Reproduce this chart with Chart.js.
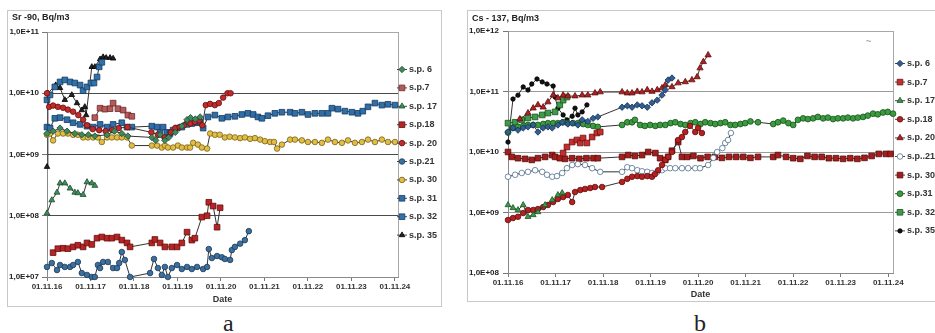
<!DOCTYPE html>
<html>
<head>
<meta charset="utf-8">
<script src="https://cdn.jsdelivr.net/npm/chart.js@4.4.1/dist/chart.umd.min.js"></script>
<style>
  body { margin:0; width:935px; height:333px; overflow:hidden; background:#fff; position:relative; }
  .box { position:absolute; border:1px solid #c8c8c8; box-sizing:border-box; background:#fff; }
  #boxA { left:7px; top:10px; width:435px; height:297px; }
  #boxB { left:467px; top:10px; width:500px; height:292px; }
  .box canvas { display:block; }
  .cap { position:absolute; top:311px; font-family:'Liberation Serif','DejaVu Serif',serif; font-size:24px; line-height:24px; color:#222; }
</style>
</head>
<body>
<div class="box" id="boxA"><canvas id="chartA" width="433" height="295"></canvas></div>
<div class="box" id="boxB"><canvas id="chartB" width="498" height="290"></canvas></div>
<div class="cap" style="left:223px">a</div>
<div class="cap" style="left:694px">b</div>
<script>
// x = years since 01.11.16
const xTicks = [0, 1, 2, 3, 4, 5, 6, 7, 8];
const xTickLabels = ['01.11.16', '01.11.17', '01.11.18', '01.11.19', '01.11.20', '01.11.21', '01.11.22', '01.11.23', '01.11.24'];

const srTicks = [1e7, 1e8, 1e9, 1e10, 1e11];
const srTickLabels = ['1,0E+07', '1,0E+08', '1,0E+09', '1,0E+10', '1,0E+11'];
const csTicks = [1e8, 1e9, 1e10, 1e11, 1e12];
const csTickLabels = ['1,0E+08', '1,0E+09', '1,0E+10', '1,0E+11', '1,0E+12'];

const srNames = ['s.p. 6', 's.p.7', 's.p. 17', 's.p.18', 's.p. 20', 's.p.21', 's.p. 30', 's.p. 31', 's.p. 32', 's.p. 35'];
const csNames = ['s.p. 6', 's.p.7', 's.p. 17', 's.p.18', 's.p. 20', 's.p..21', 's.p. 30', 's.p.31', 's.p. 32', 's.p. 35'];

// ---- Sr-90 ----
const srSp6 = [[0,2.2e9],[0.14,2.4e9],[0.3,2.7e9],[0.46,2.4e9],[0.64,2.2e9],[0.8,2.1e9],[0.95,2.1e9],[1.1,2.0e9],[1.38,2.1e9],[1.55,2.4e9],[1.72,2.2e9],[1.86,2.0e9],[2.41,1.9e9],[2.5,1.7e9],[2.6,2.1e9],[2.71,1.7e9],[2.8,1.9e9],[2.95,2.3e9],[3.1,2.9e9],[3.22,3.7e9],[3.3,4.0e9],[3.41,3.8e9],[3.52,4.1e9]];
const srSp7 = [[1.1,4.0e9],[1.22,5.7e9],[1.33,5.5e9],[1.45,5.6e9],[1.52,6.9e9],[1.63,5.6e9],[1.75,5.3e9],[1.86,4.4e9],[1.95,4.2e9]];
const srSp17 = [[0,1.1e8],[0.11,1.8e8],[0.23,2.4e8],[0.3,3.4e8],[0.41,3.4e8],[0.53,2.8e8],[0.64,2.4e8],[0.71,2.35e8],[0.83,2.2e8],[0.92,3.55e8],[1.03,3.4e8],[1.1,3.1e8]];
const srSp18 = [[0.14,2.5e7],[0.25,2.9e7],[0.37,2.95e7],[0.48,2.9e7],[0.6,3.1e7],[0.71,3.3e7],[0.83,3.1e7],[0.92,3.6e7],[1.03,3.4e7],[1.15,4.3e7],[1.26,4.5e7],[1.38,4.3e7],[1.49,4.3e7],[1.61,4.5e7],[1.72,4.0e7],[1.84,3.6e7],[1.91,3.1e7],[2.41,3.6e7],[2.48,4.1e7],[2.6,3.6e7],[2.71,3.1e7],[2.87,3.1e7],[2.99,3.1e7],[3.1,3.6e7],[3.22,5.4e7],[3.33,4.0e7],[3.4,4.3e7],[3.56,9.5e7],[3.68,1.0e8],[3.72,1.66e8],[3.82,1.44e8],[3.91,6.5e7],[3.98,1.35e8]];
const srSp20 = [[0,1.0e10],[0.05,6.0e9],[0.14,6.3e9],[0.25,6.0e9],[0.37,5.8e9],[0.48,5.4e9],[0.6,5.0e9],[0.72,4.4e9],[0.83,3.7e9],[0.92,3.0e9],[1.05,2.6e9],[1.2,2.5e9],[1.35,2.4e9],[1.5,2.5e9],[1.65,2.7e9],[1.85,2.8e9],[2.4,2.3e9],[2.55,2.1e9],[2.7,1.9e9],[2.85,2.3e9],[2.95,2.7e9],[3.05,2.8e9],[3.15,3.0e9],[3.3,3.2e9],[3.4,3.4e9],[3.5,3.6e9],[3.57,3.0e9],[3.65,6.4e9],[3.75,6.7e9],[3.86,6.4e9],[3.95,6.9e9],[4.05,8.5e9],[4.15,1.0e10],[4.22,1.0e10]];
const srSp21 = [[0,1.46e7],[0.11,1.69e7],[0.23,1.3e7],[0.3,1.57e7],[0.41,1.46e7],[0.53,1.46e7],[0.6,1.57e7],[0.71,1.76e7],[0.8,1.16e7],[0.92,1.08e7],[1.03,1.0e7],[1.1,1.0e7],[1.17,1.57e7],[1.22,1.4e7],[1.29,1.76e7],[1.4,1.76e7],[1.52,1.4e7],[1.61,1.4e7],[1.66,1.69e7],[1.72,2.56e7],[1.79,1.9e7],[1.91,1.0e7],[2.37,1.16e7],[2.46,1.97e7],[2.55,1.4e7],[2.64,1.08e7],[2.71,1.46e7],[2.78,1.0e7],[2.87,1.4e7],[2.99,1.57e7],[3.1,1.35e7],[3.22,1.46e7],[3.33,1.35e7],[3.45,1.46e7],[3.59,1.35e7],[3.68,1.46e7],[3.72,2.86e7],[3.79,2.04e7],[3.91,2.2e7],[4.02,2.1e7],[4.09,1.97e7],[4.21,1.9e7],[4.25,2.75e7],[4.32,3.1e7],[4.44,3.5e7],[4.55,4.0e7],[4.64,5.6e7]];
const srSp30 = [[0,2.1e9],[0.07,2.2e9],[0.14,1.7e9],[0.25,2.2e9],[0.37,2.2e9],[0.48,2.2e9],[0.6,2.1e9],[0.71,2.1e9],[0.83,1.9e9],[0.94,1.9e9],[1.06,1.9e9],[1.17,1.9e9],[1.26,1.6e9],[1.38,1.9e9],[1.49,1.9e9],[1.61,1.9e9],[1.72,1.9e9],[1.84,1.9e9],[1.95,1.4e9],[2.41,1.4e9],[2.53,1.4e9],[2.64,1.3e9],[2.71,1.4e9],[2.78,1.3e9],[2.9,1.3e9],[3.01,1.4e9],[3.1,1.3e9],[3.22,1.3e9],[3.29,1.3e9],[3.36,1.55e9],[3.47,1.45e9],[3.56,1.3e9],[3.68,1.25e9],[3.75,2.2e9],[3.86,2.1e9],[3.97,2.1e9],[4.09,1.9e9],[4.2,1.95e9],[4.32,1.9e9],[4.44,1.85e9],[4.55,1.9e9],[4.67,1.8e9],[4.78,1.85e9],[4.9,1.75e9],[5.01,1.65e9],[5.13,1.6e9],[5.22,1.6e9],[5.29,1.25e9],[5.4,1.45e9],[5.59,1.75e9],[5.7,1.75e9],[5.86,1.7e9],[6.0,1.6e9],[6.16,1.6e9],[6.32,1.55e9],[6.46,1.75e9],[6.62,1.6e9],[6.78,1.55e9],[6.92,1.7e9],[7.08,1.55e9],[7.24,1.6e9],[7.38,1.75e9],[7.54,1.6e9],[7.7,1.75e9],[7.84,1.6e9],[8.0,1.6e9]];
const srSp31 = [[0,2.8e9],[0.07,2.7e9],[0.18,3.9e9],[0.3,4.0e9],[0.46,3.7e9],[0.6,3.3e9],[0.76,3.1e9],[0.92,2.9e9],[1.06,2.8e9],[1.22,3.1e9],[1.38,2.8e9],[1.52,3.1e9],[1.72,3.3e9],[1.84,2.8e9],[1.95,2.8e9],[2.41,2.9e9],[2.53,2.8e9],[2.6,2.3e9],[2.67,2.8e9],[2.76,2.3e9],[2.83,2.2e9],[2.9,2.5e9],[2.99,2.7e9],[3.1,2.8e9],[3.22,3.1e9],[3.33,3.2e9],[3.45,3.3e9],[3.52,3.4e9],[3.59,2.7e9],[3.7,4.1e9],[3.86,4.4e9],[4.02,3.9e9],[4.16,4.1e9],[4.32,4.2e9],[4.48,4.5e9],[4.62,4.7e9],[4.74,4.5e9],[4.85,4.1e9],[4.94,3.9e9],[5.08,4.3e9],[5.24,4.7e9],[5.4,4.9e9],[5.59,4.9e9],[5.7,4.7e9],[5.86,4.9e9],[6.0,4.5e9],[6.16,4.7e9],[6.32,4.7e9],[6.46,4.7e9],[6.55,5.7e9],[6.69,5.5e9],[6.85,5.1e9],[7.01,4.9e9],[7.15,4.7e9],[7.26,5.1e9],[7.38,6.0e9],[7.54,6.9e9],[7.7,6.4e9],[7.84,6.6e9],[8.0,6.4e9]];
const srSp32 = [[0,7.8e9],[0.07,9.4e9],[0.18,1.27e10],[0.3,1.53e10],[0.41,1.65e10],[0.53,1.53e10],[0.64,1.47e10],[0.76,1.36e10],[0.83,1.1e10],[0.92,1.27e10],[1.01,1.47e10],[1.08,1.47e10],[1.15,1.84e10],[1.2,2.7e10],[1.26,3.2e10]];
const srSp35 = [[0,6.3e8],[0.02,1.0e10],[0.2,1.36e10],[0.3,1.22e10],[0.41,7.8e9],[0.57,9.4e9],[0.69,6.9e9],[0.8,5.3e9],[0.87,6.0e9],[0.9,4.4e9],[1.03,2.7e10],[1.1,2.7e10],[1.22,3.6e10],[1.29,3.9e10],[1.36,3.8e10],[1.45,3.8e10],[1.52,3.7e10]];

// ---- Cs-137 ----
const csSp6 = [[0,2.14e10],[0.105,2.5e10],[0.21,2.3e10],[0.32,2.5e10],[0.42,2.6e10],[0.53,2.8e10],[0.63,2.14e10],[0.74,2.5e10],[0.84,2.6e10],[0.93,2.5e10],[1.05,2.8e10],[1.14,3.1e10],[1.26,2.9e10],[1.35,3.0e10],[1.47,2.8e10],[1.56,3.4e10],[1.68,3.2e10],[1.79,3.6e10],[1.89,3.8e10],[2.4,5.5e10],[2.51,5.8e10],[2.61,5.5e10],[2.72,6.0e10],[2.82,5.8e10],[2.93,5.5e10],[3.03,6.5e10],[3.14,7.2e10],[3.24,8.7e10],[3.31,1.06e11],[3.37,1.55e11],[3.45,1.67e11]];
const csSp7 = [[1.16,9.6e9],[1.24,1.21e10],[1.35,1.46e10],[1.45,1.58e10],[1.52,1.41e10],[1.58,1.7e10],[1.66,1.41e10],[1.77,1.77e10],[1.87,2.06e10],[1.94,2.14e10]];
const csSp17 = [[0,1.33e9],[0.105,1.19e9],[0.21,1.1e9],[0.32,1.33e9],[0.42,8.5e8],[0.53,9.1e8],[0.63,1.02e9],[0.78,1.33e9],[0.93,1.61e9],[1.05,1.95e9],[1.14,2.1e9]];
const csSp18 = [[0,7.5e8],[0.105,8.1e8],[0.21,8.5e8],[0.32,9.8e8],[0.42,1.1e9],[0.53,1.1e9],[0.63,1.14e9],[0.74,1.23e9],[0.84,1.33e9],[0.95,1.49e9],[1.05,1.67e9],[1.16,1.8e9],[1.26,1.95e9],[1.35,1.49e9],[1.41,2.18e9],[1.52,2.35e9],[1.62,2.45e9],[1.73,2.54e9],[1.83,2.64e9],[1.98,2.64e9],[2.4,3.2e9],[2.51,3.6e9],[2.61,3.9e9],[2.72,4.0e9],[2.82,3.9e9],[2.93,4.0e9],[3.03,3.9e9],[3.09,4.3e9],[3.16,5.0e9],[3.24,6.1e9],[3.31,7.4e9],[3.37,8.3e9],[3.45,1.0e10],[3.58,1.58e10],[3.66,1.77e10],[3.73,2.14e10],[3.83,2.7e10],[3.94,2.14e10],[4.0,2.5e10],[4.08,2.06e10]];
const csSp20 = [[0.25,3.5e10],[0.42,4.4e10],[0.53,5.3e10],[0.63,6.0e10],[0.74,5.5e10],[0.84,6.7e10],[0.95,8.7e10],[1.05,7.8e10],[1.16,8.7e10],[1.26,8.4e10],[1.41,8.4e10],[1.56,8.7e10],[1.68,8.7e10],[1.83,9.4e10],[1.94,9.8e10],[2.4,9.8e10],[2.51,9.4e10],[2.61,9.4e10],[2.72,1.0e11],[2.82,9.8e10],[2.93,1.06e11],[3.03,1.0e11],[3.14,1.06e11],[3.24,1.14e11],[3.31,1.28e11],[3.45,1.19e11],[3.58,1.38e11],[3.73,1.44e11],[3.87,1.55e11],[3.98,1.74e11],[4.04,2.44e11],[4.11,3.1e11],[4.21,4.0e11]];
const csSp21 = [[0,3.9e9],[0.15,4.2e9],[0.29,4.5e9],[0.42,4.7e9],[0.57,5.0e9],[0.72,4.7e9],[0.82,4.2e9],[0.93,3.9e9],[1.03,4.0e9],[1.14,4.5e9],[1.24,5.4e9],[1.35,6.1e9],[1.47,6.3e9],[1.62,6.1e9],[1.77,5.4e9],[1.94,4.7e9],[2.4,4.7e9],[2.51,5.6e9],[2.61,5.4e9],[2.72,5.0e9],[2.82,4.8e9],[2.93,4.7e9],[3.03,4.5e9],[3.14,4.7e9],[3.24,5.0e9],[3.31,5.4e9],[3.41,5.4e9],[3.52,5.4e9],[3.66,5.4e9],[3.79,5.4e9],[3.94,5.4e9],[4.04,5.4e9],[4.21,6.1e9],[4.32,8.0e9],[4.4,1.0e10],[4.51,1.16e10],[4.57,1.41e10],[4.63,1.58e10],[4.69,2.06e10]];
const csSp30 = [[0,1.0e10],[0.08,8.3e9],[0.21,7.9e9],[0.36,7.7e9],[0.5,7.4e9],[0.63,7.9e9],[0.78,8.3e9],[0.93,8.9e9],[0.99,8.3e9],[1.09,7.9e9],[1.2,7.7e9],[1.35,7.9e9],[1.5,7.7e9],[1.65,7.9e9],[1.8,7.9e9],[1.89,7.9e9],[2.4,8.3e9],[2.53,8.9e9],[2.67,8.6e9],[2.82,8.9e9],[2.95,1.0e10],[3.1,9.6e9],[3.2,7.9e9],[3.31,7.4e9],[3.37,8.3e9],[3.45,1.05e10],[3.58,1.46e10],[3.66,8.3e9],[3.77,8.3e9],[3.9,8.6e9],[4.05,7.9e9],[4.2,8.3e9],[4.35,8.3e9],[4.5,8.0e9],[4.65,8.3e9],[4.8,8.3e9],[4.95,8.3e9],[5.1,8.0e9],[5.26,8.3e9],[5.58,8.3e9],[5.68,8.9e9],[5.85,8.3e9],[6.0,7.9e9],[6.15,7.7e9],[6.3,8.6e9],[6.45,8.3e9],[6.6,8.3e9],[6.75,7.9e9],[6.9,7.9e9],[7.05,7.7e9],[7.2,7.9e9],[7.35,7.7e9],[7.5,8.0e9],[7.65,8.6e9],[7.8,9.3e9],[7.95,9.3e9],[8.05,9.3e9]];
const csSp31 = [[0,2.1e10],[0.105,2.5e10],[0.21,2.6e10],[0.32,2.7e10],[0.42,2.8e10],[0.53,2.8e10],[0.63,2.8e10],[0.74,2.9e10],[0.84,3.0e10],[0.95,3.0e10],[1.05,3.0e10],[1.16,3.1e10],[1.26,3.0e10],[1.37,3.0e10],[1.47,3.0e10],[1.58,2.9e10],[1.68,2.8e10],[1.79,2.7e10],[1.89,2.6e10],[2.4,2.8e10],[2.51,3.1e10],[2.61,3.1e10],[2.67,3.4e10],[2.78,2.8e10],[2.88,2.7e10],[2.99,2.8e10],[3.1,2.7e10],[3.2,2.8e10],[3.31,2.8e10],[3.42,3.0e10],[3.52,3.1e10],[3.63,2.9e10],[3.73,2.8e10],[3.84,3.0e10],[3.94,3.1e10],[4.05,2.9e10],[4.15,3.1e10],[4.26,3.0e10],[4.36,2.9e10],[4.47,3.0e10],[4.57,3.1e10],[4.68,2.8e10],[4.78,2.8e10],[4.89,2.9e10],[4.99,3.0e10],[5.1,3.2e10],[5.26,3.1e10],[5.58,2.9e10],[5.68,3.1e10],[5.79,3.3e10],[5.9,3.0e10],[6.0,2.8e10],[6.1,3.4e10],[6.21,3.6e10],[6.31,3.5e10],[6.42,3.6e10],[6.52,3.8e10],[6.63,3.6e10],[6.73,3.7e10],[6.84,3.5e10],[6.94,3.6e10],[7.05,3.6e10],[7.15,3.7e10],[7.26,3.6e10],[7.36,3.7e10],[7.47,3.8e10],[7.57,4.0e10],[7.68,4.3e10],[7.78,4.2e10],[7.89,4.5e10],[7.99,4.6e10],[8.1,4.3e10]];
const csSp32 = [[0,3.0e10],[0.15,3.1e10],[0.29,3.4e10],[0.42,3.65e10],[0.57,3.8e10],[0.72,4.1e10],[0.84,4.4e10],[0.99,4.6e10],[1.09,6.0e10],[1.16,7.2e10],[1.24,8.1e10]];
const csSp35 = [[0,1.46e10],[0.105,7.5e10],[0.21,8.7e10],[0.32,1.19e11],[0.42,1.06e11],[0.5,1.33e11],[0.61,1.61e11],[0.72,1.44e11],[0.82,1.33e11],[0.95,1.23e11],[0.99,8.1e10],[1.05,5.3e10],[1.16,4.1e10],[1.24,3.4e10],[1.35,3.9e10],[1.41,5.3e10],[1.47,4.1e10],[1.56,4.6e10],[1.66,6.0e10]];

const srData = [srSp6, srSp7, srSp17, srSp18, srSp20, srSp21, srSp30, srSp31, srSp32, srSp35];
const csData = [csSp6, csSp7, csSp17, csSp18, csSp20, csSp21, csSp30, csSp31, csSp32, csSp35];

// marker looks
const srLook = [
  {shape: 'rectRot', r: 3.2, fill: '#3f8a5c', edge: '#1f4a30'},
  {shape: 'rect', r: 4, fill: '#b35a5a', edge: '#6e2a2a'},
  {shape: 'triangle', r: 3.4, fill: '#3f8f5a', edge: '#1d4a2e'},
  {shape: 'rect', r: 4, fill: '#b82424', edge: '#5e1010'},
  {shape: 'circle', r: 2.8, fill: '#c42a2a', edge: '#641010'},
  {shape: 'circle', r: 2.8, fill: '#3d6f9c', edge: '#1c3a58'},
  {shape: 'circle', r: 2.8, fill: '#e2bd45', edge: '#7a6218'},
  {shape: 'rect', r: 4, fill: '#2f6ea8', edge: '#173a5e'},
  {shape: 'rect', r: 4, fill: '#3272aa', edge: '#173a5e'},
  {shape: 'triangle', r: 3.2, fill: '#222', edge: '#000'}
];
const csLook = [
  {shape: 'rectRot', r: 3.2, fill: '#2f5f95', edge: '#17304e'},
  {shape: 'rect', r: 4, fill: '#c42e2e', edge: '#6a1212'},
  {shape: 'triangle', r: 3.4, fill: '#3c9a4a', edge: '#1d5226'},
  {shape: 'circle', r: 2.8, fill: '#b82020', edge: '#5e0e0e'},
  {shape: 'triangle', r: 3.6, fill: '#b02222', edge: '#5e0e0e'},
  {shape: 'circle', r: 2.8, fill: '#ffffff', edge: '#50708e'},
  {shape: 'rect', r: 4, fill: '#a51c1c', edge: '#560c0c'},
  {shape: 'circle', r: 2.9, fill: '#3a9c3e', edge: '#1b501e'},
  {shape: 'rect', r: 4, fill: '#3d9c4c', edge: '#1b501e'},
  {shape: 'circle', r: 2.2, fill: '#111', edge: '#000'}
];

const fontFam = '"Liberation Sans", Arial, sans-serif';

function drawMarker(ctx, shape, x, y, r, fill, edge) {
  ctx.save();
  ctx.fillStyle = fill;
  ctx.strokeStyle = edge;
  ctx.lineWidth = 0.8;
  ctx.beginPath();
  if (shape === 'rect') {
    const h = r * Math.SQRT1_2;
    ctx.rect(x - h, y - h, 2 * h, 2 * h);
  } else if (shape === 'rectRot') {
    ctx.moveTo(x, y - r); ctx.lineTo(x + r, y); ctx.lineTo(x, y + r); ctx.lineTo(x - r, y); ctx.closePath();
  } else if (shape === 'triangle') {
    ctx.moveTo(x, y - r);
    ctx.lineTo(x + r * Math.sin(2.094), y - r * Math.cos(2.094));
    ctx.lineTo(x + r * Math.sin(4.189), y - r * Math.cos(4.189));
    ctx.closePath();
  } else {
    ctx.arc(x, y, r, 0, Math.PI * 2);
  }
  ctx.fill();
  ctx.stroke();
  ctx.restore();
}

const sideLegend = {
  id: 'sideLegend',
  beforeDatasetsDraw(chart, args, o) {
    const a = chart.chartArea, ctx = chart.ctx;
    ctx.save();
    ctx.strokeStyle = '#a8a8a8';
    ctx.lineWidth = 1;
    ctx.beginPath();
    ctx.moveTo(a.right + 0.5, a.top);
    ctx.lineTo(a.right + 0.5, a.bottom);
    ctx.stroke();
    ctx.restore();
  },
  afterDraw(chart, args, o) {
    const ctx = chart.ctx;
    ctx.save();
    ctx.textBaseline = 'middle';
    ctx.font = 'bold 9px ' + fontFam;
    ctx.fillStyle = '#222';
    ctx.fillText(o.title, o.titleX, o.titleY);
    if (o.mark) {
      ctx.fillStyle = '#999';
      ctx.fillText('~', o.markX, o.markY);
    }
    chart.data.datasets.forEach((ds, i) => {
      const y = o.legY + i * o.legStep;
      ctx.strokeStyle = '#444';
      ctx.lineWidth = 1;
      ctx.beginPath();
      ctx.moveTo(o.legX - 5, y + 0.5);
      ctx.lineTo(o.legX + 5, y + 0.5);
      ctx.stroke();
      drawMarker(ctx, ds.pointStyle, o.legX, y + 0.5, ds.pointRadius, ds.pointBackgroundColor, ds.pointBorderColor);
      ctx.fillStyle = '#333';
      ctx.font = 'bold 9px ' + fontFam;
      ctx.fillText(ds.label, o.legX + 7, y + 0.5);
    });
    ctx.restore();
  }
};

function makeSets(names, data, looks) {
  return names.map((name, i) => ({
    label: name,
    data: data[i].map(p => ({x: p[0], y: p[1]})),
    borderColor: '#333',
    borderWidth: 1,
    pointStyle: looks[i].shape,
    pointRadius: looks[i].r,
    pointBackgroundColor: looks[i].fill,
    pointBorderColor: looks[i].edge,
    pointBorderWidth: 0.8,
    tension: 0,
    clip: false
  }));
}

function makeChart(id, sets, yTicks, yLabels, xMax, g, legendOpts) {
  const yTop = yTicks[yTicks.length - 1];
  return new Chart(document.getElementById(id), {
    type: 'line',
    data: { datasets: sets },
    options: {
      responsive: false,
      animation: false,
      events: [],
      layout: { padding: { left: 0, top: g.top, right: g.right, bottom: 0 } },
      plugins: { legend: { display: false }, tooltip: { enabled: false }, sideLegend: legendOpts },
      scales: {
        x: {
          type: 'linear', min: 0, max: xMax,
          afterBuildTicks: s => { s.ticks = xTicks.map(v => ({value: v})); },
          afterFit: s => { s.height = g.xh; },
          grid: { drawOnChartArea: false, drawTicks: true, tickLength: 4, tickColor: '#777' },
          border: { color: '#8a8a8a' },
          ticks: { autoSkip: false, maxRotation: 0, padding: 1, color: '#333',
                   font: { family: fontFam, size: 8, weight: 'bold' },
                   callback: (v, i) => xTickLabels[i] },
          title: { display: true, text: 'Date', color: '#333',
                   font: { family: fontFam, size: 9, weight: 'bold' }, padding: { top: 0, bottom: 1 } }
        },
        y: {
          type: 'logarithmic', min: yTicks[0], max: yTop,
          afterBuildTicks: s => { s.ticks = yTicks.map(v => ({value: v})); },
          afterFit: s => { s.width = g.yw; },
          grid: { color: c => (c.tick && c.tick.value === yTop) ? '#a8a8a8' : g.grid, tickColor: '#777', tickLength: 5 },
          border: { color: '#8a8a8a' },
          ticks: { padding: g.yPad, color: '#222',
                   font: { family: fontFam, size: 8, weight: 'bold' },
                   callback: (v, i) => yLabels[i] }
        }
      }
    },
    plugins: [sideLegend]
  });
}

makeChart('chartA', makeSets(srNames, srData, srLook), srTicks, srTickLabels, 8.07,
  { top: 21, right: 43, xh: 29, yw: 39, yPad: 3, grid: '#4a4a4a' },
  { title: 'Sr -90, Bq/m3', titleX: 4, titleY: 7, legX: 394, legY: 58, legStep: 18.4, mark: false });

makeChart('chartB', makeSets(csNames, csData, csLook), csTicks, csTickLabels, 8.1,
  { top: 20, right: 73, xh: 28, yw: 40, yPad: 4, grid: '#9a9a9a' },
  { title: 'Cs - 137, Bq/m3', titleX: 4, titleY: 8, legX: 432, legY: 52, legStep: 18.6, mark: true, markX: 398, markY: 31 });
</script>
</body>
</html>
